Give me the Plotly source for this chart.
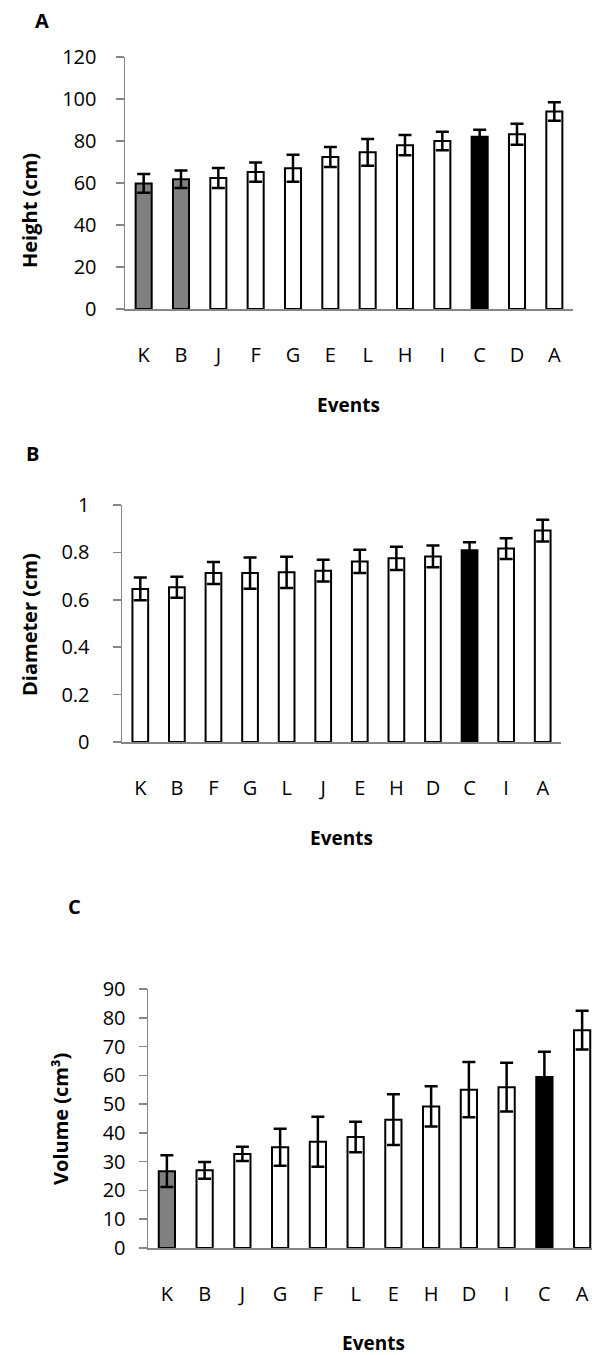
import plotly.graph_objects as go

W, H = 592, 1355

# ---------------- data ----------------
events_a = ["K", "B", "J", "F", "G", "E", "L", "H", "I", "C", "D", "A"]
height_cm = [59.8, 61.8, 62.4, 65.2, 67.0, 72.4, 74.6, 78.0, 80.0, 82.0, 83.2, 94.0]
height_err = [4.5, 4.2, 4.8, 4.6, 6.4, 4.8, 6.4, 4.8, 4.4, 3.4, 5.0, 4.4]
colors_a = ["#808080", "#808080", "white", "white", "white", "white",
            "white", "white", "white", "black", "white", "white"]

events_b = ["K", "B", "F", "G", "L", "J", "E", "H", "D", "C", "I", "A"]
diameter_cm = [0.646, 0.653, 0.713, 0.713, 0.716, 0.723, 0.762, 0.775, 0.783, 0.809, 0.816, 0.892]
diameter_err = [0.048, 0.044, 0.046, 0.066, 0.066, 0.046, 0.049, 0.049, 0.046, 0.034, 0.044, 0.046]
colors_b = ["white"] * 9 + ["black", "white", "white"]

events_c = ["K", "B", "J", "G", "F", "L", "E", "H", "D", "I", "C", "A"]
volume_cm3 = [26.7, 27.0, 32.7, 35.0, 36.9, 38.6, 44.6, 49.2, 55.0, 55.9, 59.4, 75.7]
volume_err = [5.5, 2.9, 2.5, 6.4, 8.7, 5.3, 8.8, 7.0, 9.6, 8.5, 8.8, 6.7]
colors_c = ["#808080"] + ["white"] * 9 + ["black", "white"]

FONT = "Open Sans"
AXIS_COLOR = "#868686"


def px_x(x):
    return x / W


def px_y(y):
    return 1 - y / H


fig = go.Figure()

panels = [
    (events_a, height_cm, height_err, colors_a, "x", "y"),
    (events_b, diameter_cm, diameter_err, colors_b, "x2", "y2"),
    (events_c, volume_cm3, volume_err, colors_c, "x3", "y3"),
]
for cats, vals, errs, cols, xa, ya in panels:
    fig.add_trace(go.Bar(
        x=list(range(len(cats))), y=vals,
        marker=dict(color=cols, line=dict(color="black", width=2)),
        width=0.43,
        error_y=dict(type="data", array=errs, visible=True,
                     color="black", thickness=2.5, width=6.5),
        xaxis=xa, yaxis=ya, showlegend=False, hoverinfo="skip",
        cliponaxis=False,
    ))

common_x = dict(
    showline=True, linecolor=AXIS_COLOR, linewidth=1.5,
    ticks="", showgrid=False, zeroline=False, automargin=False,
    tickfont=dict(family=FONT, size=20, color="black"),
    ticklabelstandoff=27, tickmode="array",
)
common_y = dict(
    showline=True, linecolor=AXIS_COLOR, linewidth=1.5,
    ticks="outside", ticklen=8, tickcolor=AXIS_COLOR, tickwidth=1.5,
    showgrid=False, zeroline=False, automargin=False,
    tickfont=dict(family=FONT, size=20, color="black"),
)

fig.update_layout(
    width=W, height=H,
    margin=dict(l=0, r=0, t=0, b=0, autoexpand=False),
    paper_bgcolor="white", plot_bgcolor="white",
    xaxis=dict(common_x, domain=[px_x(125), px_x(573)], anchor="y",
               range=[-0.5, 11.5], tickvals=list(range(12)), ticktext=events_a),
    yaxis=dict(common_y, domain=[px_y(309), px_y(57)], anchor="x",
               range=[0, 120], tickvals=[0, 20, 40, 60, 80, 100, 120],
               ticklabelstandoff=15),
    xaxis2=dict(common_x, domain=[px_x(122), px_x(561)], anchor="y2",
                range=[-0.5, 11.5], tickvals=list(range(12)), ticktext=events_b),
    yaxis2=dict(common_y, domain=[px_y(742), px_y(505)], anchor="x2",
                range=[0, 1], tickvals=[0, 0.2, 0.4, 0.6, 0.8, 1],
                ticktext=["0", "0.2", "0.4", "0.6", "0.8", "1"],
                ticklabelstandoff=19),
    xaxis3=dict(common_x, domain=[px_x(148), 1.0], anchor="y3",
                range=[-0.5, -0.5 + (592 - 148) / 37.75],
                tickvals=list(range(12)), ticktext=events_c),
    yaxis3=dict(common_y, domain=[px_y(1248), px_y(989)], anchor="x3",
                range=[0, 90], tickvals=list(range(0, 91, 10)),
                ticklabelstandoff=9),
)

annotations = [
    ("A", 42, 20, 0, 20),
    ("B", 32, 453, 0, 20),
    ("C", 74, 906, 0, 20),
    ("Height (cm)", 29, 211, -90, 20),
    ("Diameter (cm)", 29, 625, -90, 20),
    ("Volume (cm³)", 60, 1119, -90, 20),
    ("Events", 348, 405, 0, 19),
    ("Events", 341, 838, 0, 19),
    ("Events", 373, 1343, 0, 19),
]
for text, x, y, ang, size in annotations:
    fig.add_annotation(
        text="<b>%s</b>" % text, x=px_x(x), y=px_y(y),
        xref="paper", yref="paper", xanchor="center", yanchor="middle",
        showarrow=False, textangle=ang,
        font=dict(family=FONT, size=size, color="black"),
    )

fig.write_html(
    "out.html",
    config={"displayModeBar": False, "staticPlot": True},
    post_script="document.body.style.margin='0';document.body.style.padding='0';",
)
